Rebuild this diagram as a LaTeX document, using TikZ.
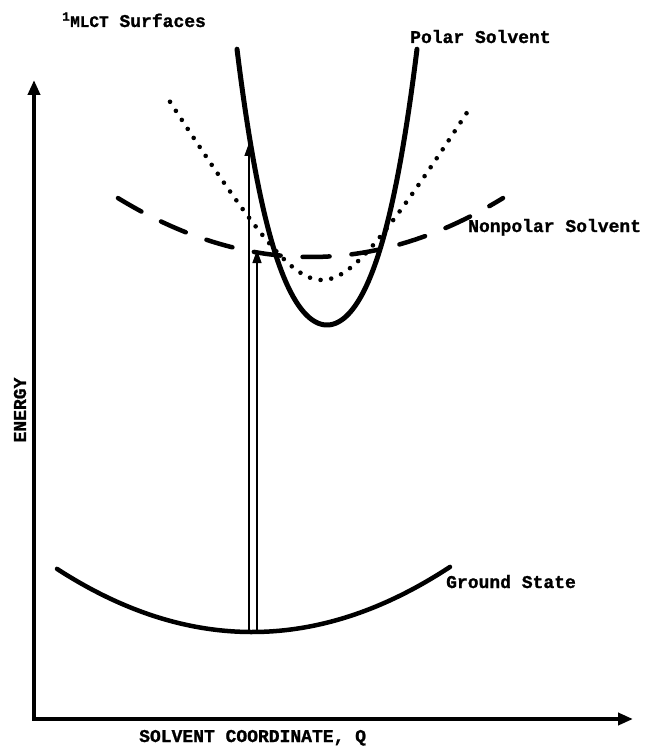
\documentclass[tikz,border=0pt]{standalone}
\usepackage{fontspec}
\setmonofont{Liberation Mono}[BoldFeatures={FakeBold=1.2}]
\usetikzlibrary{arrows.meta}
\begin{document}
\begin{tikzpicture}[x=1pt,y=-1pt,
  lbl/.style={font=\ttfamily\bfseries\fontsize{18}{20}\selectfont, inner sep=0pt},
  axisline/.style={line width=4pt, -{Triangle[length=15pt,width=12pt]}},
  curve/.style={line width=4.5pt, line cap=round, line join=round},
  polarcurve/.style={line width=5pt, line cap=round, line join=round},
  dashcurve/.style={line width=4.5pt, line cap=round, dash pattern=on 27pt off 22pt},
  dotcurve/.style={line width=4.6pt, line cap=round, dash pattern=on 0pt off 10.8pt},
  transition/.style={line width=1.4pt, -{Triangle[length=13pt,width=9pt]}}
]
\useasboundingbox (0,0) rectangle (645,746);

% axes
\coordinate (origin) at (34,719);
\coordinate (ytop) at (34,80);
\coordinate (xend) at (633,719);
\draw[axisline] (34,720.5) -- (ytop);
\draw[axisline] (32,719) -- (xend);

% nonpolar solvent (dashed)
\draw[dashcurve] plot[domain=118:503, samples=80] (\x, {257 - 0.159*pow((\x-310.5)/10,2)});
% intermediate (dotted)
\draw[dotcurve] plot[domain=170:468, samples=80] (\x, {280 - 1.62*(10*sqrt(25 + pow((\x-322)/10,2)) - 50)});
% polar solvent (solid)
\draw[polarcurve] plot[domain=237:417, samples=90] (\x, {325 - 0.02315*pow(\x-327,2) - pow((\x-327)/29.36,4)});
% ground state
\draw[curve] plot[domain=57:450, samples=80] (\x, {632 - 0.166*pow((\x-252)/10,2)});

% transitions
\coordinate (g1) at (249,632);
\coordinate (e1) at (249,143);
\coordinate (g2) at (257,632);
\coordinate (e2) at (257,250);
\draw[transition] (g1) -- (e1);
\draw[transition] (g2) -- (e2);

% labels
\node[lbl, anchor=base west] (mlct) at (62,27) {\textsuperscript{1}{\fontsize{16}{18}\selectfont MLCT} Surfaces};
\node[lbl, anchor=base west] (polar) at (410,43) {Polar Solvent};
\node[lbl, anchor=base west] (nonpolar) at (468,232) {Nonpolar Solvent};
\node[lbl, anchor=base west] (ground) at (446,588) {Ground State};
\node[lbl, anchor=base west] (xlabel) at (139,742) {SOLVENT COORDINATE, Q};
\node[lbl, rotate=90] (ylabel) at (20,410) {ENERGY};
\end{tikzpicture}
\end{document}
